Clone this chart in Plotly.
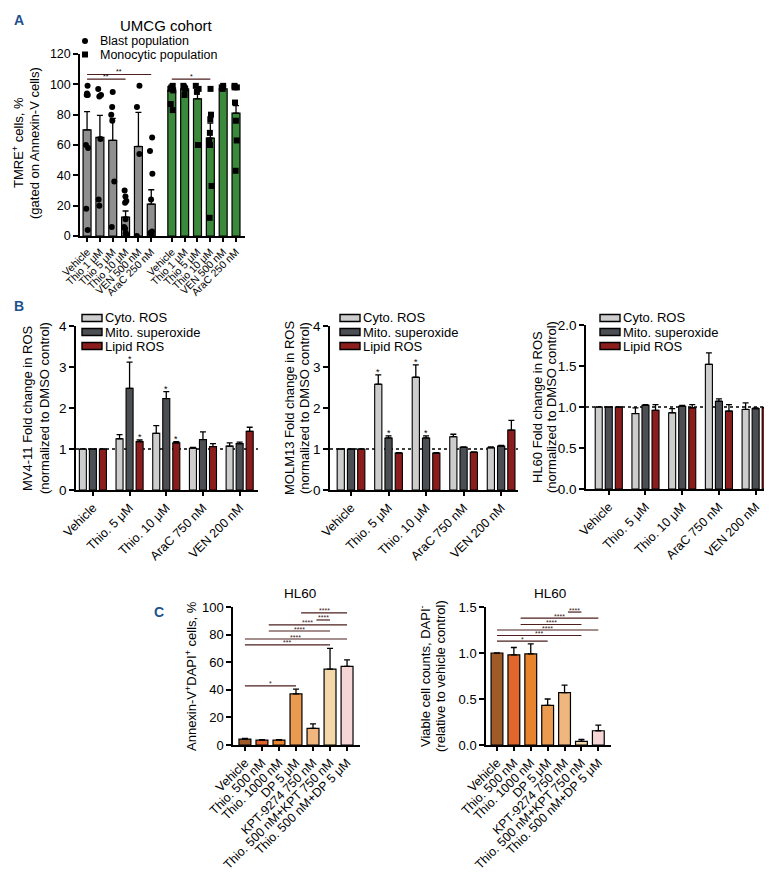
import plotly.graph_objects as go

W, H = 772, 872
FONT = "Liberation Sans, Arial, Helvetica, sans-serif"
LETTER_COLOR = "#22508f"
SIG_COLOR = "#4d1f1f"

# ---------------- Panel A data ----------------
A_TITLE = "UMCG cohort"
A_CATS = ["Vehicle", "Thio 1 μM", "Thio 5 μM", "Thio 10 μM", "VEN 500 nM", "AraC 250 nM"]
A_LEGEND = ["Blast population", "Monocytic population"]
A_BLAST_MEAN = [70, 65, 63, 12.5, 59, 21]
A_BLAST_ERR = [12, 14.5, 14.5, 4, 22.5, 9.5]
A_MONO_MEAN = [96, 97, 90.5, 64.5, 97, 81]
A_MONO_ERR = [3, 2, 7.5, 10, 2, 5]
A_BLAST_PTS = [
    [99, 94, 93, 93, 60, 58, 18, 4],
    [97, 93, 92, 64, 24, 20],
    [95, 85, 80, 76, 36, 6],
    [30, 26, 23, 22, 11, 6, 5, 2, 1],
    [99, 85, 54, 0],
    [65, 56, 41, 24, 3, 2, 2, 1],
]
A_MONO_PTS = [
    [99, 98, 97, 96, 87, 83],
    [99, 98, 97, 93],
    [99, 97, 95, 60],
    [97, 80, 77, 68, 63, 60, 33, 12],
    [99, 98, 97],
    [99, 98, 98, 88, 76, 63, 43],
]
# (group 0=blast/1=mono, from idx, to idx, height, label)
A_SIG = [(0, 0, 5, 106.5, "**"), (0, 0, 3, 103.5, "**"), (1, 0, 3, 103.5, "*")]
A_COLORS = ["#8f8f8f", "#3b8a3b"]

# ---------------- Panel B data ----------------
B_CATS = ["Vehicle", "Thio. 5 μM", "Thio. 10 μM", "AraC 750 nM", "VEN 200 nM"]
B_SERIES = ["Cyto. ROS", "Mito. superoxide", "Lipid ROS"]
B_COLORS = ["#cdcdcd", "#4b4e52", "#8c1d1d"]
B_LINES = ["MV4-11", "MOLM13", "HL60"]
MV411_MEAN = [[1.0, 1.25, 1.38, 1.02, 1.07],
              [1.0, 2.48, 2.23, 1.23, 1.13],
              [1.0, 1.18, 1.15, 1.06, 1.43]]
MV411_ERR = [[0, 0.10, 0.19, 0.02, 0.08],
             [0, 0.64, 0.17, 0.19, 0.04],
             [0, 0.04, 0.03, 0.07, 0.10]]
MOLM13_MEAN = [[1.0, 2.58, 2.75, 1.30, 1.03],
               [1.0, 1.27, 1.27, 1.04, 1.07],
               [1.0, 0.90, 0.90, 0.92, 1.46]]
MOLM13_ERR = [[0, 0.23, 0.30, 0.06, 0.02],
              [0, 0.05, 0.05, 0.01, 0.02],
              [0, 0.01, 0.01, 0.01, 0.24]]
HL60_MEAN = [[1.0, 0.92, 0.93, 1.52, 0.97],
             [1.0, 1.02, 1.01, 1.07, 0.98],
             [1.0, 0.96, 0.99, 0.95, 0.99]]
HL60_ERR = [[0, 0.07, 0.05, 0.14, 0.08],
            [0, 0.01, 0.01, 0.03, 0.01],
            [0, 0.07, 0.04, 0.08, 0.005]]
# (series idx, category idx) marked with *
MV411_STARS = [(1, 1), (2, 1), (1, 2), (2, 2)]
MOLM13_STARS = [(0, 1), (1, 1), (0, 2), (1, 2)]
HL60_STARS = []
B_YMAX = [4, 4, 2]
B_YTICKS = [[0, 1, 2, 3, 4], [0, 1, 2, 3, 4], [0.0, 0.5, 1.0, 1.5, 2.0]]

# ---------------- Panel C data ----------------
C_TITLE = "HL60"
C_CATS = ["Vehicle", "Thio. 500 nM", "Thio. 1000 nM", "DP 5 μM", "KPT-9274 750 nM",
          "Thio. 500 nM+KPT 750 nM", "Thio. 500 nM+DP 5 μM"]
C_COLORS = ["#a05a28", "#e0662c", "#e8832f", "#eb9b50", "#efb77e", "#f3d7a9", "#f6d5d7"]
C_APOP = [4.2, 3.5, 3.5, 37, 12, 55, 57]
C_APOP_ERR = [0.6, 0.4, 0.4, 3.5, 3.3, 15, 4.7]
C_VIABLE = [1.0, 0.98, 0.99, 0.43, 0.57, 0.04, 0.155]
C_VIABLE_ERR = [0, 0.08, 0.11, 0.07, 0.08, 0.02, 0.06]
# comparison spans (start position, end position, label)
C_SIG_SPANS = [(3.3, 6, "****"), (4.2, 5, "****"), (1.4, 6, "****"), (1.4, 5, "****"),
               (0, 6, "****"), (0, 5, "***"), (0, 3, "*")]
C_APOP_SIG_Y = [95.7, 90.6, 87, 82.6, 76.8, 72.5, 42.8]
C_VIABLE_SIG_Y = [1.51, 1.445, 1.38, 1.31, 1.25, 1.19, 1.13]


def PX(x):
    return x / W


def PY(y):
    return 1 - y / H


fig = go.Figure()
shapes = []
annots = []

ERR = dict(type="data", symmetric=False, color="black", thickness=1.3, width=3)


def err(arr):
    d = dict(ERR)
    d["array"] = arr
    d["arrayminus"] = [0] * len(arr)
    return d


def xaxis_style(domain, rng, tickvals, ticktext, anchor, size):
    return dict(domain=domain, range=rng, tickvals=tickvals, ticktext=ticktext, anchor=anchor,
                showline=True, linecolor="black", linewidth=1.5, ticks="outside", ticklen=4,
                tickwidth=1.5, tickcolor="black", showgrid=False, zeroline=False, tickangle=-45,
                tickfont=dict(family=FONT, size=size, color="black"), fixedrange=True)


def yaxis_style(domain, rng, tickvals, anchor, size, fmt=None):
    d = dict(domain=domain, range=rng, tickvals=tickvals, anchor=anchor,
             showline=True, linecolor="black", linewidth=1.5, ticks="outside", ticklen=5,
             tickwidth=1.5, tickcolor="black", showgrid=False, zeroline=False,
             tickfont=dict(family=FONT, size=size, color="black"), fixedrange=True)
    if fmt:
        d["tickformat"] = fmt
    return d


TITLE_SHIFT = -7


def ytitle(lines_xy, cy, size=13):
    for text, cx in lines_xy:
        annots.append(dict(text=text, x=PX(cx + TITLE_SHIFT), y=PY(cy), xref="paper", yref="paper",
                           xanchor="center", yanchor="middle", textangle=-90, showarrow=False,
                           font=dict(family=FONT, size=size, color="black")))


def text_at(text, x, y, size, xanchor="center", color="black", bold=False):
    annots.append(dict(text=f"<b>{text}</b>" if bold else text, x=PX(x), y=PY(y), xref="paper",
                       yref="paper", xanchor=xanchor, yanchor="middle", showarrow=False,
                       font=dict(family=FONT, size=size, color=color)))


# ================= Panel A =================
n = len(A_CATS)
pos_b = list(range(n))
pos_m = [n + 0.6 + i for i in range(n)]
fig.add_bar(x=pos_b + pos_m, y=A_BLAST_MEAN + A_MONO_MEAN, width=0.62,
            marker=dict(color=[A_COLORS[0]] * n + [A_COLORS[1]] * n,
                        line=dict(color="black", width=1.2)),
            error_y=err(A_BLAST_ERR + A_MONO_ERR), xaxis="x", yaxis="y", showlegend=False)
for pos, pts, sym in [(pos_b, A_BLAST_PTS, "circle"), (pos_m, A_MONO_PTS, "square")]:
    xs, ys = [], []
    for p, vals in zip(pos, pts):
        xs += [p] * len(vals)
        ys += vals
    fig.add_box(x=xs, y=ys, boxpoints="all", jitter=0.6, pointpos=0, width=0.45,
                fillcolor="rgba(0,0,0,0)", line=dict(color="rgba(0,0,0,0)", width=0),
                marker=dict(symbol=sym, size=6, color="black"), xaxis="x", yaxis="y",
                showlegend=False, hoverinfo="skip")
for grp, i0, i1, yv, lab in A_SIG:
    pos = pos_b if grp == 0 else pos_m
    shapes.append(dict(type="line", xref="x", yref="y", x0=pos[i0], x1=pos[i1], y0=yv, y1=yv,
                       line=dict(color=SIG_COLOR, width=1.2)))
    annots.append(dict(text=lab, x=(pos[i0] + pos[i1]) / 2, y=yv, xref="x", yref="y",
                       yanchor="bottom", showarrow=False, yshift=-3,
                       font=dict(family=FONT, size=7, color="black")))

layout_axes = {}
layout_axes["xaxis"] = xaxis_style([PX(72), PX(237)], [-0.55, 12.3], pos_b + pos_m, A_CATS * 2, "y", 10.5)
layout_axes["yaxis"] = yaxis_style([PY(228), PY(46)], [0, 120], list(range(0, 121, 20)), "x", 12.5)
text_at(A_TITLE, 158, 17.5, 15)
# legend A
shapes.append(dict(type="circle", xref="paper", yref="paper", x0=PX(74), x1=PX(80), y0=PY(36), y1=PY(30),
                   fillcolor="black", line=dict(color="black", width=0)))
shapes.append(dict(type="rect", xref="paper", yref="paper", x0=PX(74), x1=PX(80), y0=PY(49.5), y1=PY(43.5),
                   fillcolor="black", line=dict(color="black", width=0)))
text_at(A_LEGEND[0], 90, 33.5, 12.5, xanchor="left")
text_at(A_LEGEND[1], 90, 47, 12.5, xanchor="left")
ytitle([("TMRE<sup>+</sup> cells, %", 17), ("(gated on Annexin-V cells)", 33)], 135)
text_at("A", 11, 12, 14, color=LETTER_COLOR, bold=True)

# ================= Panel B =================
BARGAP = 0.18
slot = (1 - BARGAP) / len(B_SERIES)
B_X = [[68, 250], [322, 510], [578, 766]]
B_Y = [[482, 318], [482, 318], [481, 317]]
B_XR = [[-0.46, 4.5], [-0.56, 4.45], [-0.62, 4.5]]
B_TITLE_X = [(26, 43), (288, 303), (537, 551)]
B_LEG_X = [74, 332, 592]
means = [MV411_MEAN, MOLM13_MEAN, HL60_MEAN]
errs = [MV411_ERR, MOLM13_ERR, HL60_ERR]
stars = [MV411_STARS, MOLM13_STARS, HL60_STARS]
for k in range(3):
    ax = k + 2
    xs = list(range(len(B_CATS)))
    for s in range(len(B_SERIES)):
        fig.add_bar(x=xs, y=means[k][s], name=B_SERIES[s],
                    marker=dict(color=B_COLORS[s], line=dict(color="black", width=1.1)),
                    error_y=err(errs[k][s]), xaxis=f"x{ax}", yaxis=f"y{ax}", showlegend=False)
    layout_axes[f"xaxis{ax}"] = xaxis_style([PX(B_X[k][0]), PX(B_X[k][1])], B_XR[k], xs, B_CATS, f"y{ax}", 12.5)
    layout_axes[f"yaxis{ax}"] = yaxis_style([PY(B_Y[k][0]), PY(B_Y[k][1])], [0, B_YMAX[k]], B_YTICKS[k],
                                            f"x{ax}", 13.5, ".1f" if B_YMAX[k] == 2 else None)
    shapes.append(dict(type="line", xref=f"x{ax} domain", yref=f"y{ax}", x0=0, x1=1, y0=1, y1=1,
                       layer="below", line=dict(color="black", width=1.5, dash="dot")))
    for s, c in stars[k]:
        annots.append(dict(text="*", x=c + (s - 1) * slot, y=means[k][s][c] + errs[k][s][c],
                           xref=f"x{ax}", yref=f"y{ax}", yanchor="bottom", showarrow=False, yshift=-4,
                           font=dict(family=FONT, size=9, color="black")))
    ytitle([(f"{B_LINES[k]} Fold change in ROS", B_TITLE_X[k][0]),
            ("(normalized to DMSO control)", B_TITLE_X[k][1])], (B_Y[k][0] + B_Y[k][1]) / 2)
    for s in range(len(B_SERIES)):
        cy = 310 + 14 * s
        shapes.append(dict(type="rect", xref="paper", yref="paper", x0=PX(B_LEG_X[k]), x1=PX(B_LEG_X[k] + 20),
                           y0=PY(cy + 3.5), y1=PY(cy - 3.5), fillcolor=B_COLORS[s],
                           line=dict(color="black", width=1.4)))
        text_at(B_SERIES[s], B_LEG_X[k] + 21, cy, 13, xanchor="left")
text_at("B", 11, 298, 14, color=LETTER_COLOR, bold=True)

# ================= Panel C =================
C_X = [[225, 352], [478, 603]]
C_XR = [[-0.7, 6.76], [-0.65, 6.75]]
C_Y = [737, 599]
c_vals = [C_APOP, C_VIABLE]
c_errs = [C_APOP_ERR, C_VIABLE_ERR]
c_sig_y = [C_APOP_SIG_Y, C_VIABLE_SIG_Y]
c_ymax = [100, 1.5]
c_ticks = [[0, 20, 40, 60, 80, 100], [0, 0.5, 1.0, 1.5]]
c_title_x = [292, 542]
for k in range(2):
    ax = k + 5
    xs = list(range(len(C_CATS)))
    fig.add_bar(x=xs, y=c_vals[k], width=0.7,
                marker=dict(color=C_COLORS, line=dict(color="black", width=1.2)),
                error_y=err(c_errs[k]), xaxis=f"x{ax}", yaxis=f"y{ax}", showlegend=False)
    layout_axes[f"xaxis{ax}"] = xaxis_style([PX(C_X[k][0]), PX(C_X[k][1])], C_XR[k], xs, C_CATS, f"y{ax}", 12.5)
    layout_axes[f"yaxis{ax}"] = yaxis_style([PY(C_Y[0]), PY(C_Y[1])], [0, c_ymax[k]], c_ticks[k],
                                            f"x{ax}", 13, ".1f" if k == 1 else None)
    for (x0, x1, lab), yv in zip(C_SIG_SPANS, c_sig_y[k]):
        shapes.append(dict(type="line", xref=f"x{ax}", yref=f"y{ax}", x0=x0, x1=x1, y0=yv, y1=yv,
                           line=dict(color=SIG_COLOR, width=1.2)))
        annots.append(dict(text=lab, x=(x0 + x1) / 2, y=yv, xref=f"x{ax}", yref=f"y{ax}",
                           yanchor="bottom", showarrow=False, yshift=-3.5,
                           font=dict(family=FONT, size=7, color="#3a1a1a")))
    text_at(C_TITLE, c_title_x[k], 585, 13.5)
ytitle([("Annexin-V<sup>+</sup>DAPI<sup>+</sup> cells, %", 190)], 668)
ytitle([("Viable cell counts, DAPI<sup>-</sup>", 424), ("(relative to vehicle control)", 439)], 668)
text_at("C", 151, 604, 14, color=LETTER_COLOR, bold=True)

fig.update_layout(
    template="none",
    width=W, height=H, autosize=False,
    margin=dict(l=0, r=0, t=0, b=0, pad=0),
    paper_bgcolor="white", plot_bgcolor="white",
    barmode="group", bargap=BARGAP, bargroupgap=0.3,
    font=dict(family=FONT, color="black"),
    shapes=shapes, annotations=annots,
    showlegend=False,
    **layout_axes,
)
fig.write_html("out.html")
